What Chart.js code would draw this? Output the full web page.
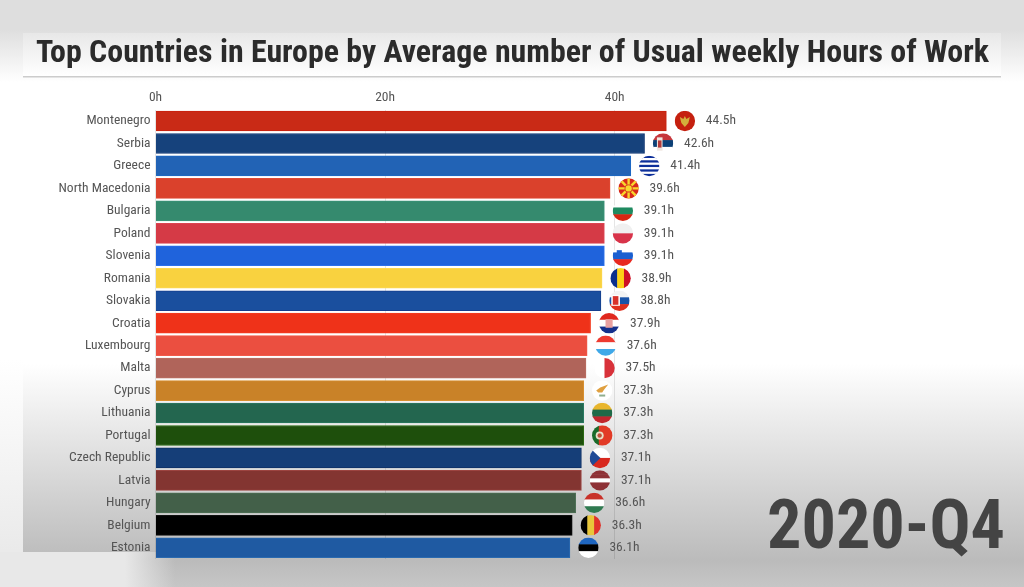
<!DOCTYPE html>
<html>
<head>
<meta charset="utf-8">
<style>
  html, body { margin: 0; padding: 0; background: #fff; }
  canvas { display: block; }
</style>
<script src="https://cdn.jsdelivr.net/npm/chart.js@4"></script>
</head>
<body>
<canvas id="chart" width="1024" height="587"></canvas>
<script>
const chartTitle = "Top Countries in Europe by Average number of Usual weekly Hours of Work";
const periodLabel = "2020-Q4";

const countries = ["Montenegro", "Serbia", "Greece", "North Macedonia", "Bulgaria", "Poland", "Slovenia", "Romania", "Slovakia", "Croatia", "Luxembourg", "Malta", "Cyprus", "Lithuania", "Portugal", "Czech Republic", "Latvia", "Hungary", "Belgium", "Estonia"];
const hours = [44.5, 42.6, 41.4, 39.6, 39.1, 39.1, 39.1, 38.9, 38.8, 37.9, 37.6, 37.5, 37.3, 37.3, 37.3, 37.1, 37.1, 36.6, 36.3, 36.1];
const barColors = ["#c92a16", "#16427c", "#2263b5", "#da412c", "#358a6e", "#d53a46", "#1f63dc", "#f9d23f", "#1a4f9e", "#ef3219", "#eb4f40", "#b0645a", "#c98228", "#23664f", "#1e4f0c", "#153e78", "#833531", "#436049", "#000000", "#1f5aa2"];
const barEdges = ["#c8200e", "#0e3470", "#1c68c4", "#e04a34", "#3a9478", "#dc4452", "#2a70ec", "#fcd850", "#153f8e", "#f43c22", "#f25a4a", "#bb6e62", "#d89030", "#2a7a60", "#2a6a12", "#0e3066", "#9c4440", "#4e7056", "#111111", "#2a6ab0"];
const flagDirections = ["h", "h", "h", "h", "h", "h", "h", "v", "h", "h", "h", "v", "h", "h", "v", "h", "h", "h", "v", "h"];
const flagStripes = [
  ["#c5200f"],
  ["#c6363c", "#0c4076", "#ffffff"],
  ["#0d2f9a", "#ffffff", "#0d2f9a", "#ffffff", "#0d2f9a", "#ffffff", "#0d2f9a", "#ffffff", "#0d2f9a"],
  ["#d8291c"],
  ["#ffffff", "#1f8a60", "#d62612"],
  ["#f0f0f0", "#d8344a"],
  ["#ffffff", "#1a5fd0", "#e8281e"],
  ["#0a2f8c", "#fcd116", "#ce1126"],
  ["#f4f4f4", "#1a54a8", "#e0301e"],
  ["#e0281e", "#ffffff", "#14308c"],
  ["#ee3a30", "#ffffff", "#3fa8e8"],
  ["#ffffff", "#d8323a"],
  ["#ffffff"],
  ["#e8b52c", "#1f6a48", "#c1272d"],
  ["#1a6a2a", "#e23a26", "#e23a26"],
  ["#ffffff", "#d8281e"],
  ["#8e3236", "#8e3236", "#ffffff", "#8e3236", "#8e3236"],
  ["#c8322a", "#ffffff", "#2f7a50"],
  ["#000000", "#e8c63a", "#e0322a"],
  ["#1f66c0", "#000000", "#ffffff"]
];
const xTickStep = 20;
const xMax = 50;

const flagExtras = {
  Montenegro(ctx) {
    ctx.fillStyle = "#d3ae3b";
    ctx.beginPath(); ctx.moveTo(-5, -4); ctx.lineTo(-1.5, -2); ctx.lineTo(0, -5); ctx.lineTo(1.5, -2); ctx.lineTo(5, -4); ctx.lineTo(3.5, 2); ctx.lineTo(0, 6); ctx.lineTo(-3.5, 2); ctx.fill();
  },
  Serbia(ctx, r) {
    ctx.fillStyle = "#efe6e0"; ctx.fillRect(-r * 0.6, -r * 0.6, r * 0.55, r * 1.3);
    ctx.fillStyle = "#b23a3a"; ctx.fillRect(-r * 0.5, -r * 0.3, r * 0.35, r * 0.7);
  },
  "North Macedonia"(ctx, r) {
    ctx.strokeStyle = "#f8d52e"; ctx.lineWidth = 2.4;
    for (let i = 0; i < 8; i++) {
      const a = i * Math.PI / 4;
      ctx.beginPath(); ctx.moveTo(0, 0); ctx.lineTo(Math.cos(a) * r, Math.sin(a) * r); ctx.stroke();
    }
    ctx.fillStyle = "#d8291c"; ctx.beginPath(); ctx.arc(0, 0, 4, 0, Math.PI * 2); ctx.fill();
    ctx.fillStyle = "#f8d52e"; ctx.beginPath(); ctx.arc(0, 0, 3.2, 0, Math.PI * 2); ctx.fill();
  },
  Slovenia(ctx, r) {
    ctx.fillStyle = "#1a5fd0"; ctx.fillRect(-r * 0.6, -r * 0.55, r * 0.5, r * 0.6);
  },
  Slovakia(ctx, r) {
    ctx.fillStyle = "#fff"; ctx.fillRect(-r * 0.8, -r * 0.55, r * 0.85, r * 1.05);
    ctx.fillStyle = "#d8322a"; ctx.fillRect(-r * 0.65, -r * 0.45, r * 0.55, r * 0.85);
  },
  Croatia(ctx, r) {
    ctx.fillStyle = "#e8a0a0"; ctx.fillRect(-r * 0.35, -r * 0.4, r * 0.7, r * 0.85);
  },
  Cyprus(ctx) {
    ctx.fillStyle = "#e0a040";
    ctx.beginPath(); ctx.moveTo(-6, 0); ctx.lineTo(-2, -3); ctx.lineTo(6, -6); ctx.lineTo(2, -1); ctx.lineTo(0, 2); ctx.lineTo(-4, 2); ctx.fill();
    ctx.fillStyle = "#8fae8f"; ctx.fillRect(-3, 4, 6, 2);
  },
  Portugal(ctx, r) {
    ctx.fillStyle = "#e8e0c8"; ctx.beginPath(); ctx.arc(-r * 0.25, 0, 4, 0, Math.PI * 2); ctx.fill();
    ctx.fillStyle = "#c0503a"; ctx.beginPath(); ctx.arc(-r * 0.25, 0, 2.2, 0, Math.PI * 2); ctx.fill();
  },
  "Czech Republic"(ctx, r) {
    ctx.fillStyle = "#1f4a96"; ctx.beginPath(); ctx.moveTo(-r, -r); ctx.lineTo(r * 0.05, 0); ctx.lineTo(-r, r); ctx.fill();
  }
};

const backdropPlugin = {
  id: "backdrop",
  beforeInit(chart) { chart.ctx.fontStretch = "condensed"; },
  beforeDraw(chart) {
    const { ctx, width, height } = chart;
    ctx.save();
    const page = ctx.createLinearGradient(0, 0, 0, height);
    page.addColorStop(0, "#dedede");
    page.addColorStop(0.05, "#dedede");
    page.addColorStop(0.14, "#ffffff");
    page.addColorStop(0.62, "#ffffff");
    page.addColorStop(0.955, "#bbbbbb");
    page.addColorStop(1, "#c6c6c6");
    ctx.fillStyle = page;
    ctx.fillRect(0, 0, width, height);

    // lighter margin left of and below the panel
    const side = ctx.createLinearGradient(0, 360, 0, height);
    side.addColorStop(0, "#ffffff");
    side.addColorStop(1, "#e6e6e6");
    ctx.fillStyle = side;
    ctx.fillRect(0, 360, 23, height - 360);
    const under = ctx.createLinearGradient(125, 0, 175, 0);
    under.addColorStop(0, "#e8e8e8");
    under.addColorStop(1, "rgba(232,232,232,0)");
    ctx.fillStyle = under;
    ctx.fillRect(0, 552, 175, height - 552);

    // title band
    const band = ctx.createLinearGradient(0, 33, 0, 76);
    band.addColorStop(0, "#e8e8e8");
    band.addColorStop(1, "#ffffff");
    ctx.fillStyle = band;
    ctx.fillRect(23, 33, 978, 43);
    ctx.fillStyle = "#cccccc";
    ctx.fillRect(23, 76, 978, 1.5);

    ctx.fillStyle = "#2b2b2b";
    ctx.font = "700 32px 'Roboto Condensed', Roboto, sans-serif";
    ctx.textAlign = "left";
    ctx.textBaseline = "alphabetic";
    ctx.fillText(chartTitle, 36, 62, 953);
    ctx.restore();
  },
  afterDatasetsDraw(chart) {
    const { ctx } = chart;
    const xScale = chart.scales.x;
    const yScale = chart.scales.y;
    const r = 10.2;
    ctx.save();
    countries.forEach((name, i) => {
      const end = xScale.getPixelForValue(hours[i]);
      const y = yScale.getPixelForValue(i);
      ctx.save();
      ctx.translate(end + 18.5, y);
      ctx.beginPath();
      ctx.arc(0, 0, r, 0, Math.PI * 2);
      ctx.clip();
      const stripes = flagStripes[i];
      const step = 2 * r / stripes.length;
      stripes.forEach((color, k) => {
        ctx.fillStyle = color;
        if (flagDirections[i] === "v") ctx.fillRect(-r + k * step, -r, step + 0.5, 2 * r);
        else ctx.fillRect(-r, -r + k * step, 2 * r, step + 0.5);
      });
      if (flagExtras[name]) flagExtras[name](ctx, r);
      ctx.restore();

      ctx.fillStyle = "#555555";
      ctx.font = "400 13.5px 'Roboto Condensed', Roboto, sans-serif";
      ctx.textAlign = "left";
      ctx.textBaseline = "middle";
      ctx.fillText(hours[i].toFixed(1) + "h", end + 39.5, y);
    });
    ctx.fillStyle = "#444444";
    ctx.font = "700 69px 'Roboto Condensed', Roboto, sans-serif";
    ctx.textAlign = "left";
    ctx.textBaseline = "alphabetic";
    ctx.fillText(periodLabel, 767, 548, 238);
    ctx.restore();
  }
};

new Chart(document.getElementById("chart"), {
  type: "bar",
  data: {
    labels: countries,
    datasets: [{
      data: hours,
      backgroundColor: barColors,
      borderColor: barEdges,
      borderWidth: 1,
      barThickness: 20
    }]
  },
  plugins: [backdropPlugin],
  options: {
    indexAxis: "y",
    responsive: false,
    animation: false,
    layout: { padding: { top: 90, right: 294.5, bottom: 28, left: 0 } },
    plugins: { legend: { display: false }, tooltip: { enabled: false } },
    scales: {
      x: {
        position: "top",
        min: 0,
        max: xMax,
        afterFit(axis) { axis.height = 19.8; },
        grid: { color: "rgba(0,0,0,0.1)", drawTicks: false },
        border: { display: false },
        ticks: {
          stepSize: xTickStep,
          includeBounds: false,
          padding: 4,
          color: "#555555",
          font: { family: "'Roboto Condensed', Roboto, sans-serif", size: 13.5 },
          callback: v => v + "h"
        }
      },
      y: {
        afterFit(axis) { axis.width = 155.5; },
        grid: { display: false, drawTicks: false },
        border: { display: false },
        ticks: {
          autoSkip: false,
          padding: 5,
          color: "#555555",
          font: { family: "'Roboto Condensed', Roboto, sans-serif", size: 13.5 }
        }
      }
    }
  }
});
</script>
</body>
</html>
